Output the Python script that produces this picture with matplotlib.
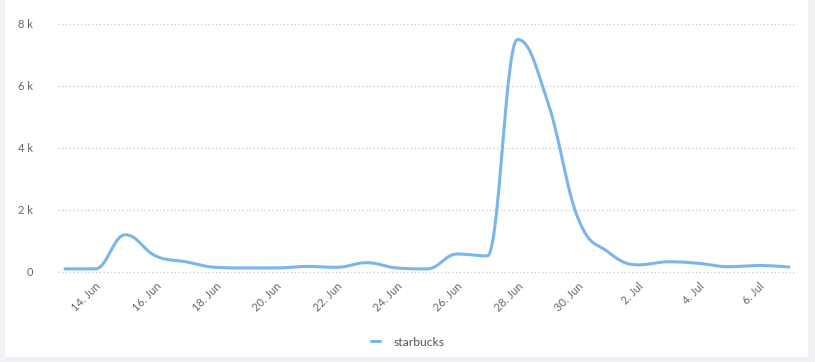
"""starbucks daily mentions, 13 Jun - 7 Jul, Highcharts-style spline."""
from datetime import date, timedelta

import matplotlib
matplotlib.use("Agg")
import matplotlib.pyplot as plt
import matplotlib.dates as mdates
import numpy as np
from matplotlib.patches import Rectangle

plt.rcParams["font.family"] = ["Lato", "DejaVu Sans"]

START = date(2016, 6, 13)
DAYS = [START + timedelta(days=i) for i in range(25)]
STARBUCKS = [100, 100, 1200, 520, 330, 150, 130, 130, 180, 150, 300, 130,
             100, 580, 520, 7500, 5500, 1750, 650, 230, 330, 280, 170, 210,
             160]
Y_TICKS = [0, 2000, 4000, 6000, 8000]
Y_LABELS = ["0", "2 k", "4 k", "6 k", "8 k"]

LINE_COLOR = "#7cb5ec"
TEXT_COLOR = "#666666"


def hc_spline(xs, ys, n=40):
    # Highcharts "spline" control points (smoothing 1.5)
    xs = np.asarray(xs, float)
    ys = np.asarray(ys, float)
    k = len(xs)
    lc = [(xs[0], ys[0])] * k
    rc = [(xs[-1], ys[-1])] * k
    for i in range(1, k - 1):
        s, d = 1.5, 2.5
        lx = (s * xs[i] + xs[i - 1]) / d
        ly = (s * ys[i] + ys[i - 1]) / d
        rx = (s * xs[i] + xs[i + 1]) / d
        ry = (s * ys[i] + ys[i + 1]) / d
        if rx != lx:
            corr = (ry - ly) * (rx - xs[i]) / (rx - lx) + ys[i] - ry
            ly += corr
            ry += corr
            if ly > ys[i - 1] and ly > ys[i]:
                ly = max(ys[i - 1], ys[i]); ry = 2 * ys[i] - ly
            elif ly < ys[i - 1] and ly < ys[i]:
                ly = min(ys[i - 1], ys[i]); ry = 2 * ys[i] - ly
            if ry > ys[i + 1] and ry > ys[i]:
                ry = max(ys[i + 1], ys[i]); ly = 2 * ys[i] - ry
            elif ry < ys[i + 1] and ry < ys[i]:
                ry = min(ys[i + 1], ys[i]); ly = 2 * ys[i] - ry
        lc[i] = (lx, ly)
        rc[i] = (rx, ry)
    rc[0] = (xs[0], ys[0])
    lc[-1] = (xs[-1], ys[-1])
    t = np.linspace(0, 1, n)[:, None]
    out = []
    for i in range(1, k):
        p0 = np.array([xs[i - 1], ys[i - 1]])
        p1 = np.array(rc[i - 1])
        p2 = np.array(lc[i])
        p3 = np.array([xs[i], ys[i]])
        seg = ((1 - t) ** 3 * p0 + 3 * (1 - t) ** 2 * t * p1
               + 3 * (1 - t) * t ** 2 * p2 + t ** 3 * p3)
        out.append(seg if i == 1 else seg[1:])
    out = np.vstack(out)
    return out[:, 0], out[:, 1]


def main() -> None:
    fig = plt.figure(figsize=(8.15, 3.62), dpi=100, facecolor="#f0f0f5")
    fig.patches.append(Rectangle((5 / 815, 5 / 362), 803 / 815, 357 / 362,
                                 transform=fig.transFigure,
                                 facecolor="white", edgecolor="none",
                                 zorder=-5))
    ax = fig.add_axes([58 / 815, (362 - 272) / 362, 739 / 815, 248 / 362])
    ax.set_facecolor("none")
    ax.set_zorder(2)

    xnum = mdates.date2num(DAYS)
    sx, sy = hc_spline(xnum, STARBUCKS)
    ax.plot(sx, sy, color=LINE_COLOR, lw=2.2, solid_capstyle="round",
            label="starbucks", zorder=3)

    ax.set_ylim(0, 8000)
    px_day = 724 / 24
    ax.set_xlim(xnum[0] - 7 / px_day, xnum[-1] + 8 / px_day)
    ax.set_yticks(Y_TICKS)
    ax.set_yticklabels(Y_LABELS)
    for yv in Y_TICKS:
        ax.axhline(yv, color="#c8c8c8", lw=0.9, ls=(0, (1, 2)), zorder=1,
                   clip_on=False)

    ax.set_xticks(xnum[1::2])
    ax.xaxis.set_major_formatter(mdates.DateFormatter("%-d. %b"))
    for lab in ax.get_xticklabels():
        lab.set_rotation(45)
        lab.set_ha("right")
        lab.set_rotation_mode("anchor")
    ax.tick_params(axis="x", length=0, pad=6, labelsize=8,
                   labelcolor=TEXT_COLOR)
    ax.tick_params(axis="y", length=0, pad=18, labelsize=8,
                   labelcolor=TEXT_COLOR)
    for sp in ax.spines.values():
        sp.set_visible(False)

    leg = fig.legend(loc="center", bbox_to_anchor=(0.5, 20 / 362),
                     frameon=False, handlelength=0.75, handletextpad=1.1,
                     fontsize=8.7)
    for t in leg.get_texts():
        t.set_color("#555555")
    for h in leg.get_lines():
        h.set_linewidth(2.2)

    fig.savefig("out.png", dpi=100, facecolor=fig.get_facecolor())
    plt.close(fig)


if __name__ == "__main__":
    main()
